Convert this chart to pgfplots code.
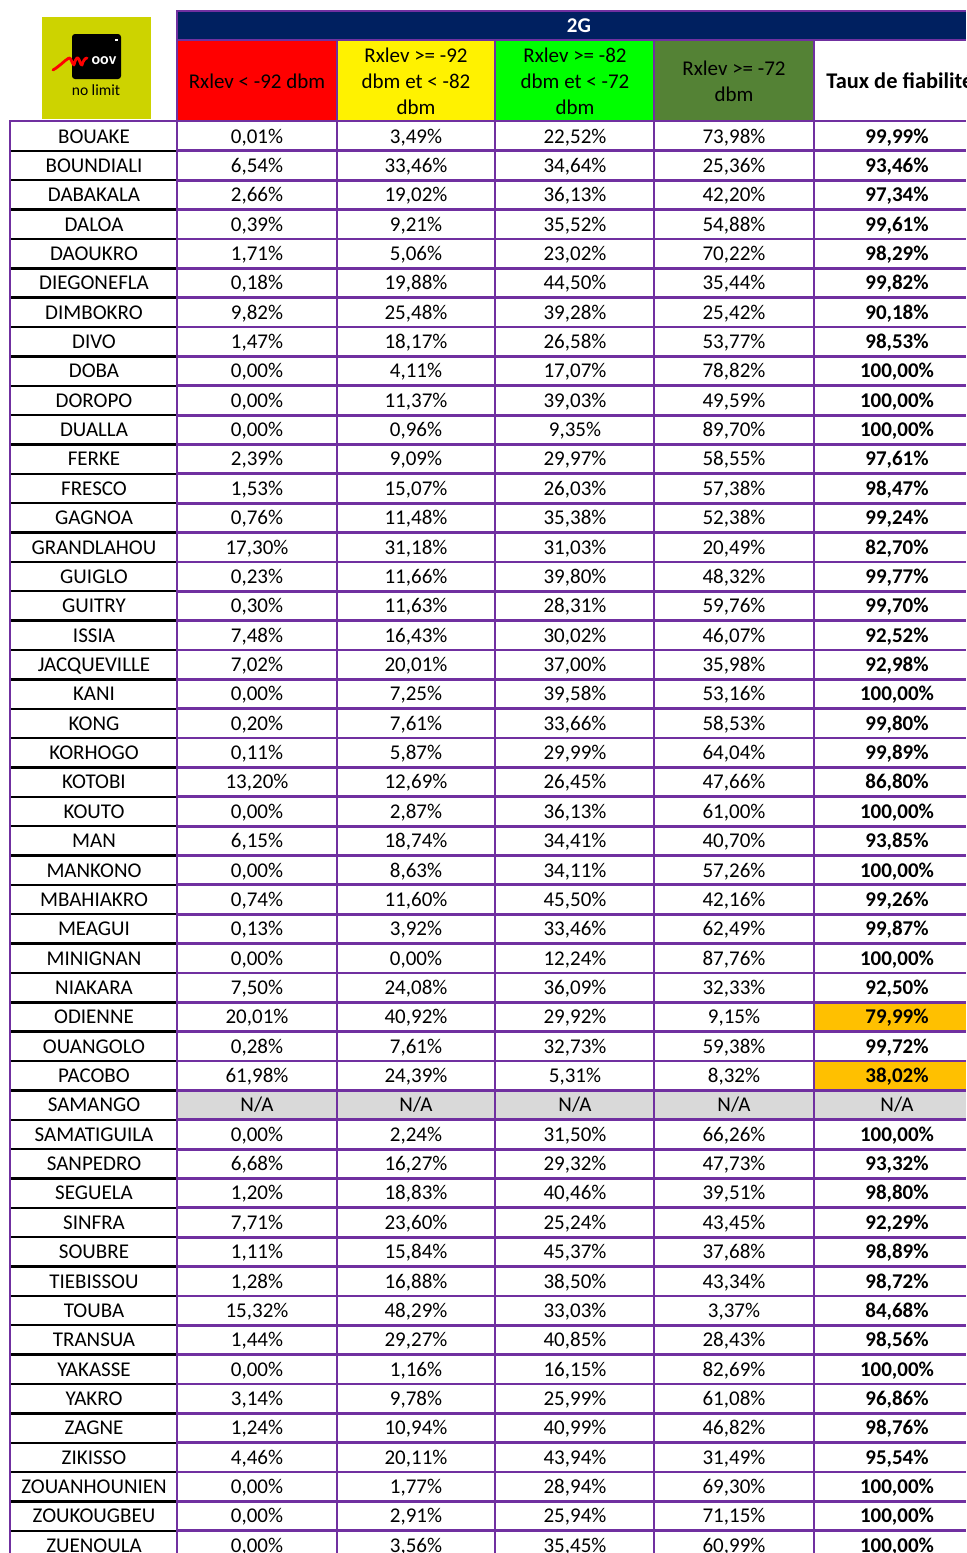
\documentclass[border=0pt]{standalone}
\usepackage{pgfplots}
\pgfplotsset{compat=1.18}
\usepackage{pgfplotstable}
\usepackage{fontspec}
\setmainfont{Carlito}
\definecolor{purp}{HTML}{7030A0}
\definecolor{navy}{HTML}{002060}
\definecolor{dkgreen}{HTML}{548235}
\definecolor{orangeY}{HTML}{FFC000}
\definecolor{greyNA}{HTML}{D9D9D9}
\definecolor{moovY}{HTML}{CDD300}
\pgfplotsset{/pgf/number format/assume math mode=true}

\pgfplotstableread{
row name a b c d t
0 BOUAKE 0.01 3.49 22.52 73.98 99.99
1 BOUNDIALI 6.54 33.46 34.64 25.36 93.46
2 DABAKALA 2.66 19.02 36.13 42.20 97.34
3 DALOA 0.39 9.21 35.52 54.88 99.61
4 DAOUKRO 1.71 5.06 23.02 70.22 98.29
5 DIEGONEFLA 0.18 19.88 44.50 35.44 99.82
6 DIMBOKRO 9.82 25.48 39.28 25.42 90.18
7 DIVO 1.47 18.17 26.58 53.77 98.53
8 DOBA 0.00 4.11 17.07 78.82 100.00
9 DOROPO 0.00 11.37 39.03 49.59 100.00
10 DUALLA 0.00 0.96 9.35 89.70 100.00
11 FERKE 2.39 9.09 29.97 58.55 97.61
12 FRESCO 1.53 15.07 26.03 57.38 98.47
13 GAGNOA 0.76 11.48 35.38 52.38 99.24
14 GRANDLAHOU 17.30 31.18 31.03 20.49 82.70
15 GUIGLO 0.23 11.66 39.80 48.32 99.77
16 GUITRY 0.30 11.63 28.31 59.76 99.70
17 ISSIA 7.48 16.43 30.02 46.07 92.52
18 JACQUEVILLE 7.02 20.01 37.00 35.98 92.98
19 KANI 0.00 7.25 39.58 53.16 100.00
20 KONG 0.20 7.61 33.66 58.53 99.80
21 KORHOGO 0.11 5.87 29.99 64.04 99.89
22 KOTOBI 13.20 12.69 26.45 47.66 86.80
23 KOUTO 0.00 2.87 36.13 61.00 100.00
24 MAN 6.15 18.74 34.41 40.70 93.85
25 MANKONO 0.00 8.63 34.11 57.26 100.00
26 MBAHIAKRO 0.74 11.60 45.50 42.16 99.26
27 MEAGUI 0.13 3.92 33.46 62.49 99.87
28 MINIGNAN 0.00 0.00 12.24 87.76 100.00
29 NIAKARA 7.50 24.08 36.09 32.33 92.50
30 ODIENNE 20.01 40.92 29.92 9.15 79.99
31 OUANGOLO 0.28 7.61 32.73 59.38 99.72
32 PACOBO 61.98 24.39 5.31 8.32 38.02
34 SAMATIGUILA 0.00 2.24 31.50 66.26 100.00
35 SANPEDRO 6.68 16.27 29.32 47.73 93.32
36 SEGUELA 1.20 18.83 40.46 39.51 98.80
37 SINFRA 7.71 23.60 25.24 43.45 92.29
38 SOUBRE 1.11 15.84 45.37 37.68 98.89
39 TIEBISSOU 1.28 16.88 38.50 43.34 98.72
40 TOUBA 15.32 48.29 33.03 3.37 84.68
41 TRANSUA 1.44 29.27 40.85 28.43 98.56
42 YAKASSE 0.00 1.16 16.15 82.69 100.00
43 YAKRO 3.14 9.78 25.99 61.08 96.86
44 ZAGNE 1.24 10.94 40.99 46.82 98.76
45 ZIKISSO 4.46 20.11 43.94 31.49 95.54
46 ZOUANHOUNIEN 0.00 1.77 28.94 69.30 100.00
47 ZOUKOUGBEU 0.00 2.91 25.94 71.15 100.00
48 ZUENOULA 0.00 3.56 35.45 60.99 100.00
}\data

\pgfplotsset{
  cell/.style={draw=none, mark=none, nodes near coords,
    every node near coord/.append style={anchor=base, inner sep=0pt, text=black,
      font=\fontsize{10.5}{13}\selectfont}},
  pct/.style={cell, point meta=explicit,
    nodes near coords={\pgfmathprintnumber[fixed,fixed zerofill,precision=2,use comma]{\pgfplotspointmeta}\%}},
}

\begin{document}
\begin{tikzpicture}
\begin{axis}[name=ax, width=483pt, height=776.5pt, scale only axis,
  xmin=0, xmax=966, ymin=0, ymax=1553, y dir=reverse, hide axis, clip=false]

% logo
\fill[moovY] (42,17) rectangle (151,119);
\fill[black, rounded corners=1.5pt] (72,34) rectangle (121,79);
\node[text=white, font=\bfseries\fontsize{8}{8}\selectfont, inner sep=0pt] at (104,61) {oov};
\fill[white] (115,39) rectangle (118,40.5);
\draw[red, line width=1.4pt, line cap=round, line join=round] (53,70) .. controls (60,66) and (65,60) .. (69,58)
  .. controls (71,57) and (72,64) .. (74,65) .. controls (75,60) and (77,57) .. (78,58)
  .. controls (80,60) and (80,65) .. (82,65) .. controls (83,61) and (85,58) .. (87,58);
\node[font=\fontsize{7.8}{8}\selectfont, inner sep=0pt] at (96,90) {no limit};

% header
\fill[navy] (177,11) rectangle (966,40);
\node[text=white, font=\bfseries\fontsize{10.5}{13}\selectfont] at (579,26) {2G};
\fill[red] (177,40) rectangle (337,120.5);
\fill[yellow] (337,40) rectangle (495,120.5);
\fill[green] (495,40) rectangle (654,120.5);
\fill[dkgreen] (654,40) rectangle (814,120.5);
\node[align=center, font=\fontsize{10.5}{13}\selectfont] at (257,81) {Rxlev < -92 dbm};
\node[align=center, font=\fontsize{10.5}{13}\selectfont] at (416,81) {Rxlev >= -92\\dbm et < -82\\dbm};
\node[align=center, font=\fontsize{10.5}{13}\selectfont] at (575,81) {Rxlev >= -82\\dbm et < -72\\dbm};
\node[align=center, font=\fontsize{10.5}{13}\selectfont] at (734,81) {Rxlev >= -72\\dbm};
\node[anchor=west, inner sep=0pt, font=\bfseries\fontsize{11.2}{13}\selectfont] at (826,81) {Taux de fiabilité};

% special cells
\fill[greyNA] (177,{121.5+29.36*33}) rectangle (966,{121.5+29.36*34});
\fill[orangeY] (814,{121.5+29.36*30}) rectangle (966,{121.5+29.36*31});
\fill[orangeY] (814,{121.5+29.36*32}) rectangle (966,{121.5+29.36*33});

% grid lines
\pgfplotsinvokeforeach{1,...,48}{
  \draw[black, line width=1.2pt] (10,{121.5+29.36*#1}) -- (177,{121.5+29.36*#1});
  \draw[purp, line width=1.4pt] (177,{121.5+29.36*#1}) -- (966,{121.5+29.36*#1});
}
\draw[purp, line width=1.4pt] (177,11) -- (966,11);
\draw[purp, line width=1.4pt] (177,40) -- (966,40);
\draw[purp, line width=1.4pt] (10,121) -- (966,121);
\draw[purp, line width=1.4pt] (10,120.3) -- (10,1553);
\draw[purp, line width=1.4pt] (177,10.3) -- (177,1553);
\pgfplotsinvokeforeach{337,495,654,814}{
  \draw[purp, line width=1.4pt] (#1,40) -- (#1,1553);
}

% data
\addplot[cell, point meta=explicit symbolic, nodes near coords={\pgfplotspointmeta}]
  table[x expr=94, y expr=143+29.36*\thisrow{row}, meta=name] {\data};
\addplot[pct] table[x expr=257, y expr=143+29.36*\thisrow{row}, meta=a] {\data};
\addplot[pct] table[x expr=416, y expr=143+29.36*\thisrow{row}, meta=b] {\data};
\addplot[pct] table[x expr=575, y expr=143+29.36*\thisrow{row}, meta=c] {\data};
\addplot[pct] table[x expr=734, y expr=143+29.36*\thisrow{row}, meta=d] {\data};
\addplot[pct, every node near coord/.append style={font=\bfseries\fontsize{10.5}{13}\selectfont}]
  table[x expr=897, y expr=143+29.36*\thisrow{row}, meta=t] {\data};
\addplot[cell, point meta=explicit symbolic, nodes near coords={\pgfplotspointmeta}]
  coordinates {(94,1111.9) [SAMANGO] (257,1111.9) [N/A] (416,1111.9) [N/A]
  (575,1111.9) [N/A] (734,1111.9) [N/A] (897,1111.9) [N/A]};
\end{axis}
\pgfresetboundingbox
\useasboundingbox (ax.south west) rectangle (ax.north east);
\end{tikzpicture}
\end{document}
